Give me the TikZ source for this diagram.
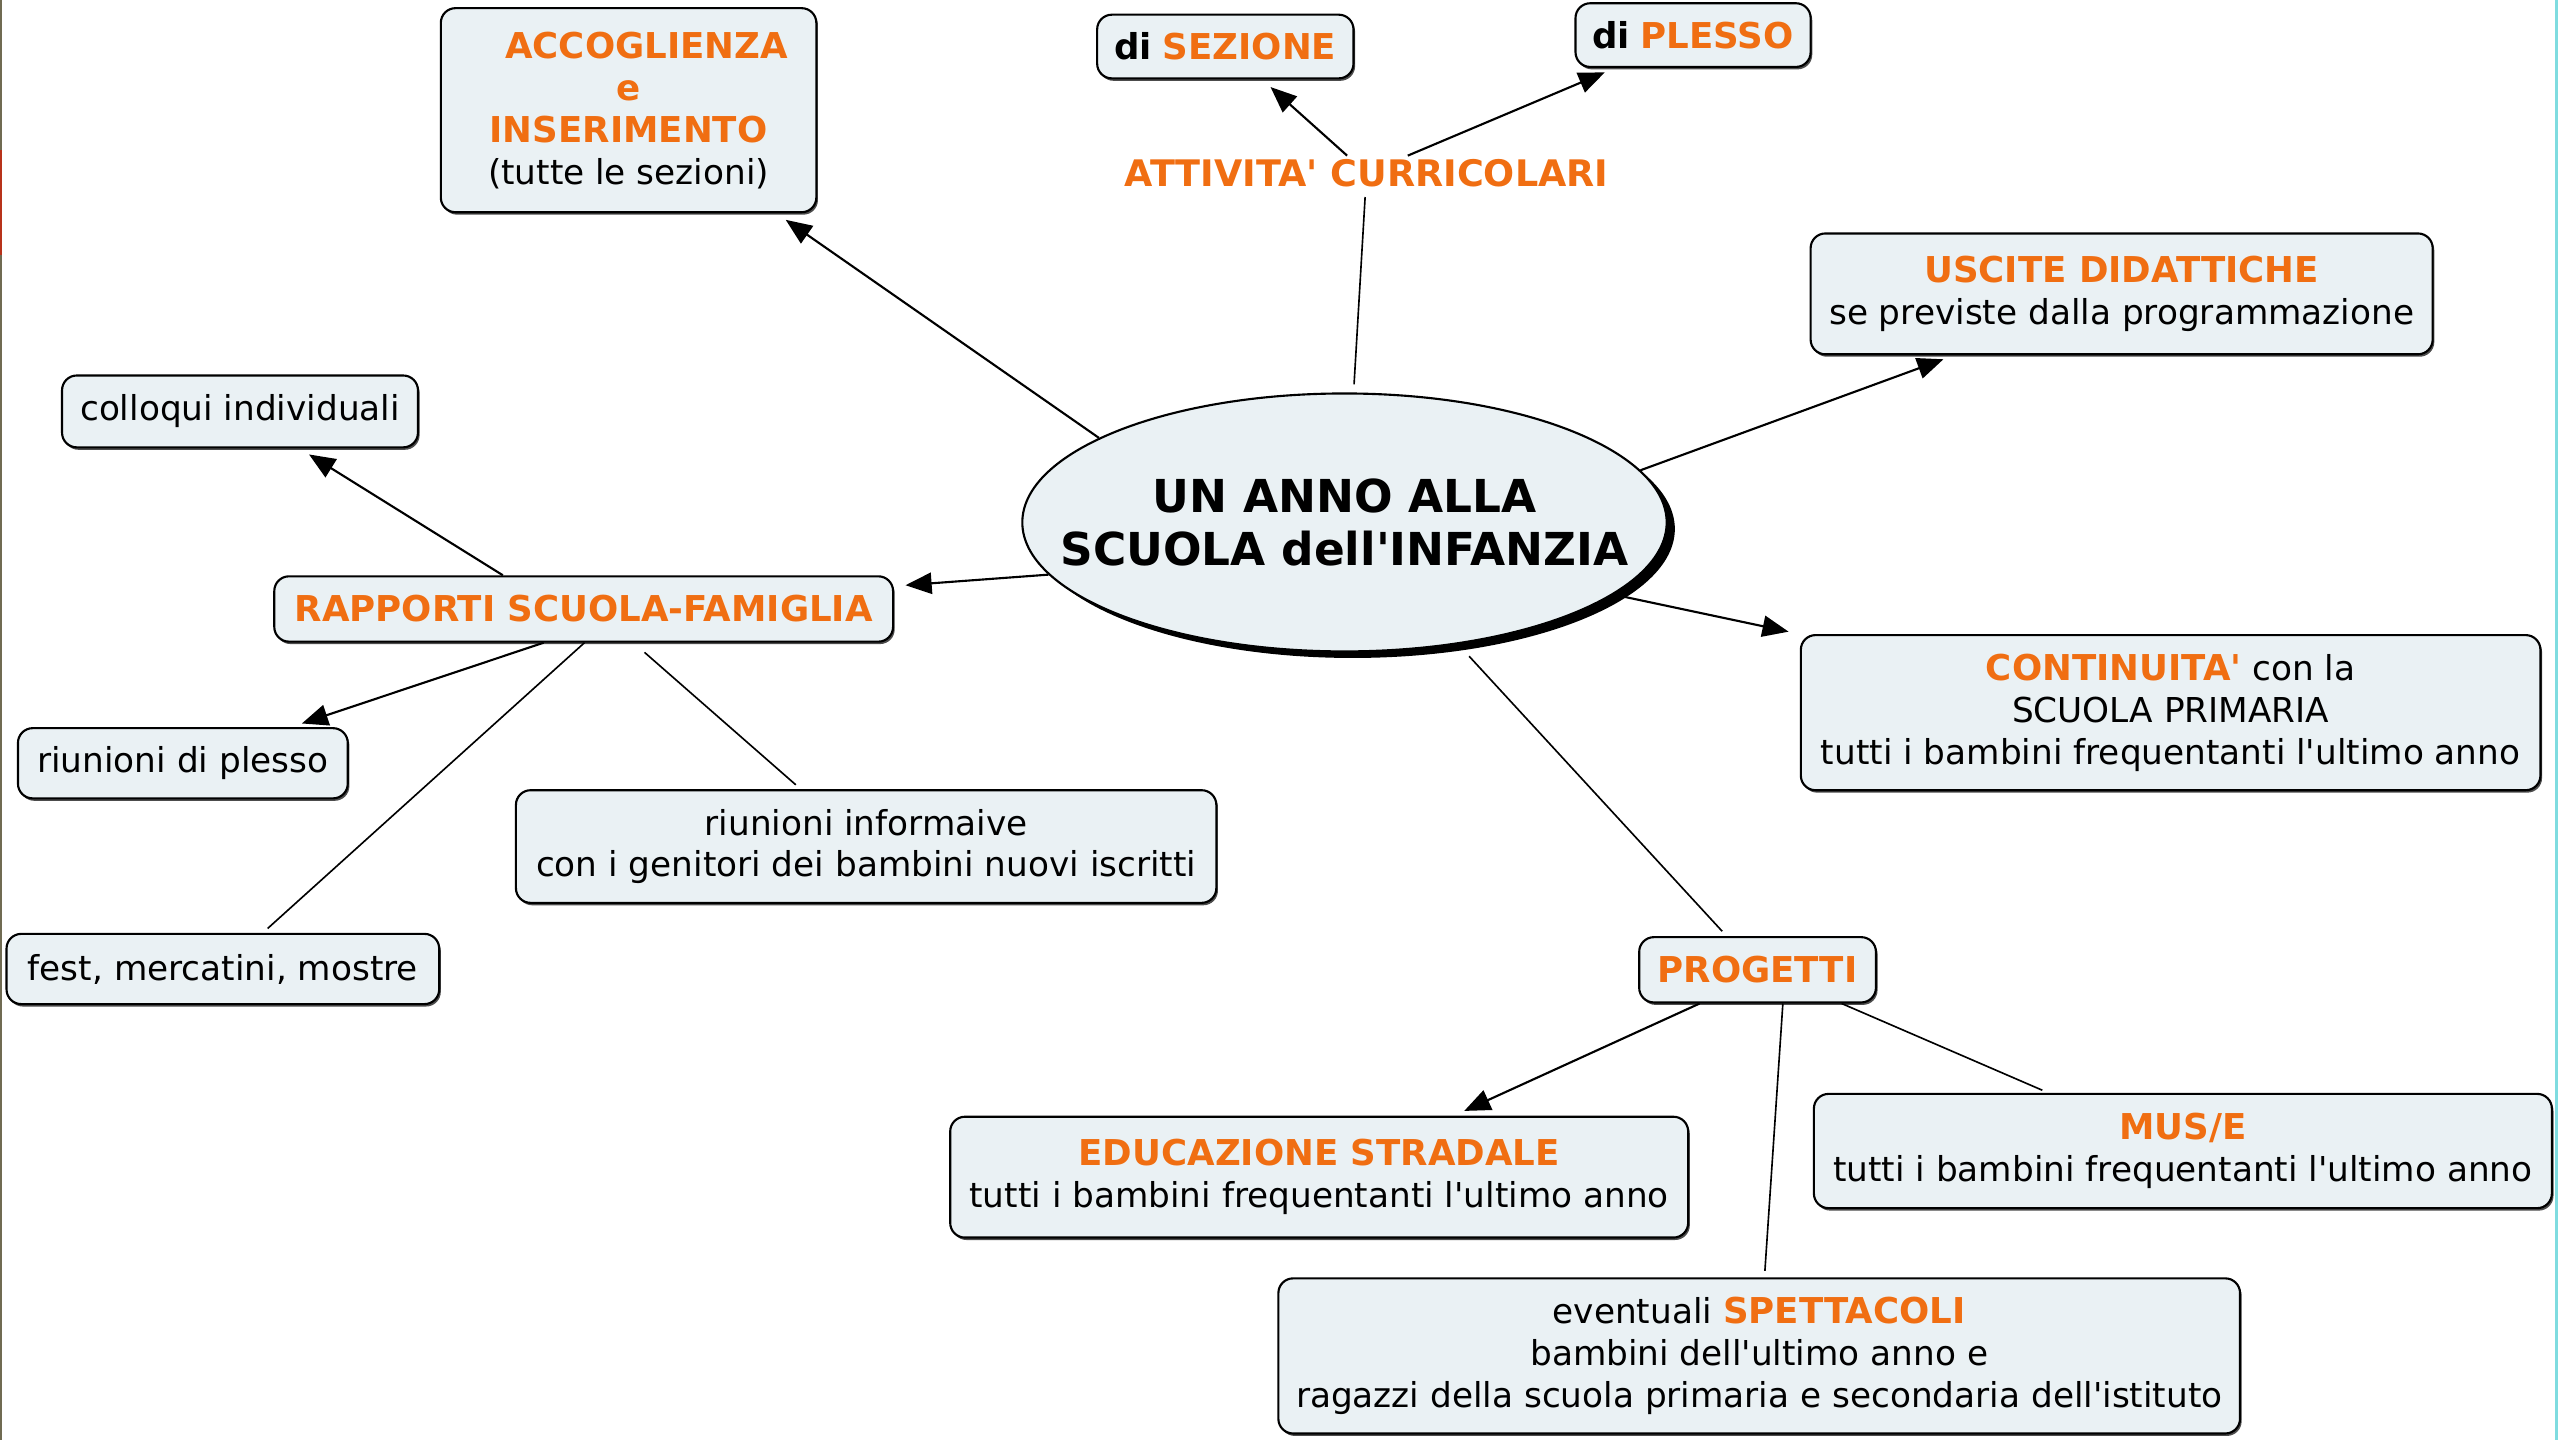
\documentclass[tikz,border=0pt]{standalone}
\usepackage{fontspec}
\setmainfont{DejaVu Sans}[Ligatures=TeXOff]
\usetikzlibrary{positioning,shapes.geometric,arrows.meta,shadows}

\definecolor{cmapfill}{HTML}{EAF1F4}
\definecolor{cmaporange}{HTML}{F06E12}
\definecolor{edgeolive}{HTML}{706B52}
\definecolor{edgered}{HTML}{B8321A}
\definecolor{edgecyan}{HTML}{7FDCE0}

\newcommand{\arancio}[1]{{\fontsize{21.8}{25.5}\selectfont\bfseries\color{cmaporange}#1}}
\newcommand{\nero}[1]{{\fontsize{21.8}{25.5}\selectfont\bfseries #1}}

\tikzset{
  concept/.style={draw, line width=1.3pt, rounded corners=9pt, fill=cmapfill,
    align=center, inner sep=2pt, font=\fontsize{21}{25.7}\selectfont,
    drop shadow={shadow xshift=1pt, shadow yshift=-1.5pt, fill=black, opacity=0.7}},
  mainconcept/.style={ellipse, draw, line width=1.3pt, fill=cmapfill,
    minimum width=393pt, minimum height=158pt, inner xsep=-34.5pt, inner ysep=0pt,
    align=center, font=\fontsize{27.8}{33}\selectfont\bfseries,
    drop shadow={shadow xshift=5pt, shadow yshift=-4pt, fill=black, opacity=1}},
  label/.style={inner sep=2pt, text=cmaporange,
    font=\fontsize{22.4}{25.7}\selectfont\bfseries},
  link/.style={line width=1pt, shorten >=4pt},
  arrow/.style={line width=1.3pt, -{Triangle[length=16pt,width=13pt]}, shorten >=7pt},
}

\begin{document}
\begin{tikzpicture}[on grid, node distance=100pt]
  \useasboundingbox (0,0) rectangle (1568pt,-882pt);
  % bordi della pagina
  \fill[edgeolive] (0,0) rectangle (1.3pt,-882pt);
  \fill[edgered] (0,-92pt) rectangle (1.3pt,-156pt);
  \fill[edgecyan] (1565pt,0) rectangle (1566.6pt,-882pt);

  \node[mainconcept] (anno) at (823.5pt,-320pt) {UN ANNO ALLA\\SCUOLA dell'INFANZIA};

  \node[concept, minimum width=230pt, minimum height=125pt] (accog) [above left=252.5pt and 438.5pt of anno]
    {\hspace*{22pt}\arancio{ACCOGLIENZA}\\\arancio{e}\\\arancio{INSERIMENTO}\\(tutte le sezioni)};
  \node[label] (attiv) [above right=214pt and 13.5pt of anno] {ATTIVITA' CURRICOLARI};
  \node[concept, minimum width=157pt, minimum height=39pt] (sez) [above left=77.5pt and 86.5pt of attiv]
    {\nero{di} \arancio{SEZIONE}};
  \node[concept, minimum width=144pt, minimum height=39pt] (plesso) [above right=84.5pt and 200pt of attiv]
    {\nero{di} \arancio{PLESSO}};
  \node[concept, minimum width=381pt, minimum height=74pt] (uscite) [above right=140pt and 476pt of anno]
    {\arancio{USCITE DIDATTICHE}\\se previste dalla programmazione};

  \node[concept, minimum width=379pt, minimum height=40pt] (rapp) [below left=53pt and 466pt of anno]
    {\arancio{RAPPORTI SCUOLA-FAMIGLIA}};
  \node[concept, minimum width=218pt, minimum height=44pt] (coll) [above left=121pt and 210.5pt of rapp]
    {colloqui individuali};
  \node[concept, minimum width=202pt, minimum height=43pt] (riun) [below left=94.5pt and 245.5pt of rapp]
    {riunioni di plesso};
  \node[concept, minimum width=429pt, minimum height=69pt] (inform) [below right=145.5pt and 173pt of rapp]
    {riunioni informaive\\con i genitori dei bambini nuovi iscritti};
  \node[concept, minimum width=265pt, minimum height=43pt] (fest) [below left=220.5pt and 221pt of rapp]
    {fest, mercatini, mostre};

  \node[concept, minimum width=453pt, minimum height=95pt] (cont) [below right=116.5pt and 506pt of anno]
    {\arancio{CONTINUITA'} con la\\SCUOLA PRIMARIA\\tutti i bambini frequentanti l'ultimo anno};

  \node[concept, minimum width=145pt, minimum height=40pt] (prog) [below right=274pt and 253pt of anno]
    {\arancio{PROGETTI}};
  \node[concept, minimum width=452pt, minimum height=74pt] (edu) [below left=127pt and 268.5pt of prog]
    {\arancio{EDUCAZIONE STRADALE}\\tutti i bambini frequentanti l'ultimo anno};
  \node[concept, minimum width=452pt, minimum height=70pt] (muse) [below right=111pt and 260.5pt of prog]
    {\arancio{MUS/E}\\tutti i bambini frequentanti l'ultimo anno};
  \node[concept, minimum width=589pt, minimum height=95pt] (spett) [below right=236.5pt and 1pt of prog]
    {eventuali \arancio{SPETTACOLI}\\bambini dell'ultimo anno e\\ragazzi della scuola primaria e secondaria dell'istituto};

  \path
    (anno.161) edge[arrow] (accog)
    (anno.86) edge[link, shorten <=5pt] (attiv)
    (anno.10) edge[arrow] (uscite)
    (anno.190) edge[arrow] (rapp)
    (anno.345) edge[arrow] (cont)
    (anno.313) edge[link, shorten <=10pt] (prog);

  \path
    (attiv) edge[arrow] (sez)
            edge[arrow] (plesso);

  \path
    ([xshift=-49.5pt]rapp.north) edge[arrow] (coll)
    ([xshift=-24.5pt]rapp.south) edge[arrow] (riun)
    ([xshift=0.5pt]rapp.south) edge[link] (fest)
    ([xshift=30.5pt]rapp.south) edge[link, shorten <=9pt] (inform);

  \path
    ([xshift=-35.5pt]prog.south) edge[arrow] (edu)
    ([xshift=15.5pt]prog.south) edge[link] (spett)
    ([xshift=51.5pt]prog.south) edge[link] (muse);
\end{tikzpicture}
\end{document}
